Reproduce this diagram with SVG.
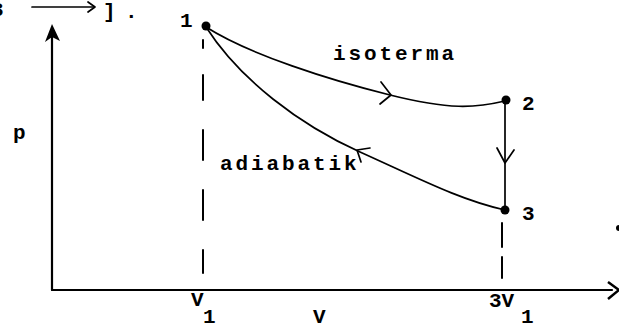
<svg xmlns="http://www.w3.org/2000/svg" width="619" height="330" viewBox="0 0 619 330">
<style>
text{font-family:"Liberation Mono","Courier New",monospace;font-weight:bold;font-size:21px;fill:#000}
.lbl{letter-spacing:2.9px}
.ln{fill:none;stroke:#000;stroke-width:1.7;stroke-linecap:round;stroke-linejoin:round}
.ax{fill:none;stroke:#000;stroke-width:2.2;stroke-linecap:round}
.dash{fill:none;stroke:#000;stroke-width:2;stroke-linecap:round}
</style>
<rect width="619" height="330" fill="#fff"/>
<g id="fragment">
<text x="-9" y="16">3</text>
<line class="ln" x1="32" y1="7" x2="94" y2="7"/>
<path class="ln" d="M88,2 L95,7 L88,12"/>
<text x="103" y="18">]</text>
<text x="125" y="18">.</text>
</g>
<g id="axes">
<line class="ax" x1="52" y1="34" x2="52" y2="290"/>
<polygon points="52,24 45,42 52,37 60,41" fill="#000"/>
<line class="ax" x1="52" y1="290" x2="612" y2="290"/>
<path d="M608,282 L619,290 L608,299" fill="none" stroke="#000" stroke-width="2.5" stroke-linejoin="round"/>
<text x="13" y="139">p</text>
<text x="313" y="323">V</text>
</g>
<g id="dashes">
<line class="dash" x1="203" y1="40" x2="203" y2="48"/>
<line class="dash" x1="203" y1="75" x2="203" y2="100"/>
<line class="dash" x1="203" y1="130" x2="203" y2="160"/>
<line class="dash" x1="203" y1="190" x2="203" y2="220"/>
<line class="dash" x1="203" y1="250" x2="203" y2="273"/>
<line class="dash" x1="502" y1="223" x2="502" y2="247"/>
<line class="dash" x1="502" y1="257" x2="502" y2="278"/>
</g>
<g id="connectors">
<path id="isoterma" class="ln" d="M206,27 C250,55 330,80 390,95 S475,108 505,101"/>
<path class="ln" d="M381,82 L391,95 L380,104"/>
<path id="adiabatik" class="ln" d="M206,27 C240,80 300,125 360,152 S460,200 505,210"/>
<path class="ln" d="M370,148 L357,150 L361,162"/>
<line class="ln" x1="505" y1="101" x2="505" y2="210"/>
<path class="ln" d="M497,148 L505,163 L514,150"/>
</g>
<g id="node1">
<circle cx="206" cy="26" r="4.5" fill="#000"/>
<text x="180" y="27">1</text>
</g>
<g id="node2">
<circle cx="506" cy="100" r="4.5" fill="#000"/>
<text x="522" y="110">2</text>
</g>
<g id="node3">
<circle cx="505" cy="210" r="4.5" fill="#000"/>
<text x="522" y="220">3</text>
</g>
<g id="labels">
<text class="lbl" x="333" y="60">isoterma</text>
<text class="lbl" x="220" y="170">adiabatik</text>
<text x="191" y="306">V</text>
<text x="203" y="323">1</text>
<text x="489" y="307">3V</text>
<text x="521" y="323">1</text>
</g>
<circle cx="619" cy="228" r="3" fill="#000"/>
</svg>
